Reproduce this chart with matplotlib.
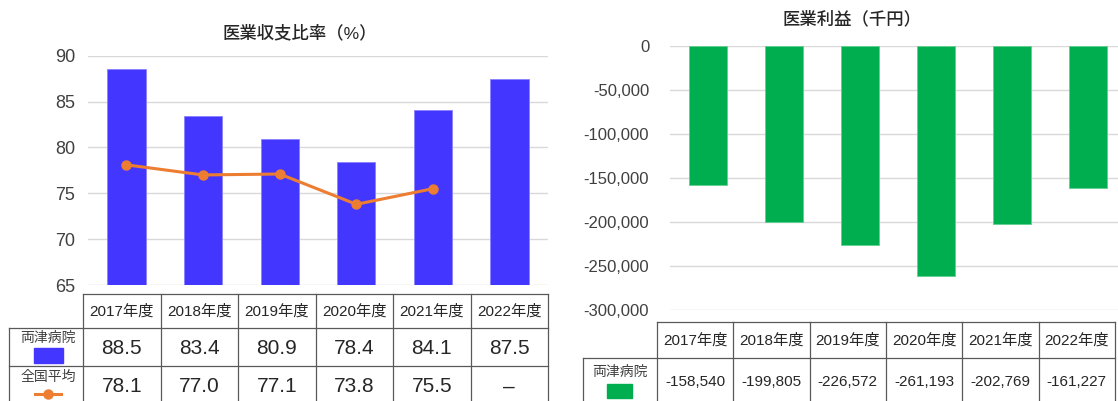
import numpy as np
import matplotlib
matplotlib.use("Agg")
import matplotlib.pyplot as plt
from matplotlib.lines import Line2D
from matplotlib.patches import Rectangle

plt.rcParams['font.family'] = ['Liberation Sans', 'Noto Sans CJK JP', 'DejaVu Sans']

# ---- data ----
years = ["2017年度", "2018年度", "2019年度", "2020年度", "2021年度", "2022年度"]
ratio_hospital = [88.5, 83.4, 80.9, 78.4, 84.1, 87.5]
ratio_national = [78.1, 77.0, 77.1, 73.8, 75.5, np.nan]
profit_hospital = [-158540, -199805, -226572, -261193, -202769, -161227]
hospital_name = "両津病院"
national_name = "全国平均"
title_left = "医業収支比率（%）"
title_right = "医業利益（千円）"

BLUE = "#4337FF"
ORANGE = "#ED7D31"
GREEN = "#00AE50"
GRID = "#D9D9D9"
TXT = "#262626"
LINE = "#595959"

W, H = 1118, 401
fig = plt.figure(figsize=(W / 100, H / 100), dpi=100)


def px_axes(x0, x1, ytop, ybot):
    return fig.add_axes([x0 / W, 1 - ybot / H, (x1 - x0) / W, (ybot - ytop) / H])


x = np.arange(len(years))

# ---- left chart ----
axL = px_axes(88, 548, 55.7, 285)
axL.bar(x, ratio_hospital, width=0.5, color=BLUE, edgecolor="#8A82FF", linewidth=0.6, zorder=2)
axL.plot(x, ratio_national, color=ORANGE, lw=2.2, marker="o", ms=6.5, zorder=3)
axL.set_xlim(-0.5, len(years) - 0.5)
axL.set_ylim(65, 90)
axL.set_yticks([65, 70, 75, 80, 85, 90])
axL.set_xticks([])
axL.grid(axis="y", color=GRID, lw=1, zorder=0)
for s in axL.spines.values():
    s.set_visible(False)
axL.tick_params(axis="y", length=0, pad=9, labelsize=13, labelcolor="#404040")

# ---- right chart ----
axR = px_axes(670, 1126, 45.7, 310)
axR.bar(x, profit_hospital, width=0.5, color=GREEN, edgecolor="#5FCF8F", linewidth=0.6, zorder=2)
axR.set_xlim(-0.5, len(years) - 0.5)
axR.set_ylim(-300000, 0)
axR.set_yticks(np.arange(-300000, 1, 50000))
axR.yaxis.set_major_formatter(matplotlib.ticker.FuncFormatter(lambda v, p: f"{int(v):,}"))
axR.set_xticks([])
axR.grid(axis="y", color=GRID, lw=1, zorder=0)
for s in axR.spines.values():
    s.set_visible(False)
axR.tick_params(axis="y", length=0, pad=15, labelsize=12, labelcolor="#404040")

# ---- overlay for titles and tables ----
ov = fig.add_axes([0, 0, 1, 1], zorder=5)
ov.set_xlim(0, W)
ov.set_ylim(H, 0)
ov.axis("off")
ov.patch.set_alpha(0)

ov.text(300, 33, title_left, ha="center", va="center", fontsize=12.5,
        fontweight="medium", color="#262626")
ov.text(852, 19, title_right, ha="center", va="center", fontsize=12.5,
        fontweight="medium", color="#262626")


def hline(y, x0, x1):
    ov.add_line(Line2D([x0, x1], [y, y], color=LINE, lw=0.9))


def vline(xx, y0, y1):
    ov.add_line(Line2D([xx, xx], [y0, y1], color=LINE, lw=0.9))


# left table
lx0, lcw, lab0 = 83, 77.5, 9
lt, lh1, lh2 = 294, 328, 366
n = len(years)
hline(lt, lx0, lx0 + n * lcw)
hline(lh1, lab0, lx0 + n * lcw)
hline(lh2, lab0, lx0 + n * lcw)
vline(lab0, lh1, H + 5)
for i in range(n + 1):
    vline(lx0 + i * lcw, lt, H + 5)
for i, yr in enumerate(years):
    cx = lx0 + (i + 0.5) * lcw
    ov.text(cx, (lt + lh1) / 2, yr, ha="center", va="center", fontsize=11, color=TXT)
    ov.text(cx, 348, f"{ratio_hospital[i]:.1f}", ha="center", va="center", fontsize=15, color=TXT)
    v = ratio_national[i]
    ov.text(cx, 387, "–" if np.isnan(v) else f"{v:.1f}", ha="center", va="center",
            fontsize=15, color=TXT)
ov.text(48, 338, hospital_name, ha="center", va="center", fontsize=10, color="#404040")
ov.add_patch(Rectangle((34, 348), 29, 15, color=BLUE))
ov.text(48, 377, national_name, ha="center", va="center", fontsize=10, color="#404040")
ov.add_line(Line2D([35, 61], [394, 394], color=ORANGE, lw=2.2))
ov.add_line(Line2D([48], [394], color=ORANGE, marker="o", ms=6.5))

# right table
rx0, rcw, rab0 = 657, 76.3, 583
rt, rh1 = 322, 358
hline(rt, rx0, rx0 + n * rcw)
hline(rh1, rab0, rx0 + n * rcw)
vline(rab0, rh1, H + 5)
for i in range(n + 1):
    vline(rx0 + i * rcw, rt, H + 5)
for i, yr in enumerate(years):
    cx = rx0 + (i + 0.5) * rcw
    ov.text(cx, (rt + rh1) / 2, yr, ha="center", va="center", fontsize=11, color=TXT)
    ov.text(cx, 382, f"{profit_hospital[i]:,}", ha="center", va="center", fontsize=11, color=TXT)
ov.text(620, 372, hospital_name, ha="center", va="center", fontsize=10, color="#404040")
ov.add_patch(Rectangle((607, 384), 25, 14, color=GREEN))

fig.savefig("out.png", dpi=100)
